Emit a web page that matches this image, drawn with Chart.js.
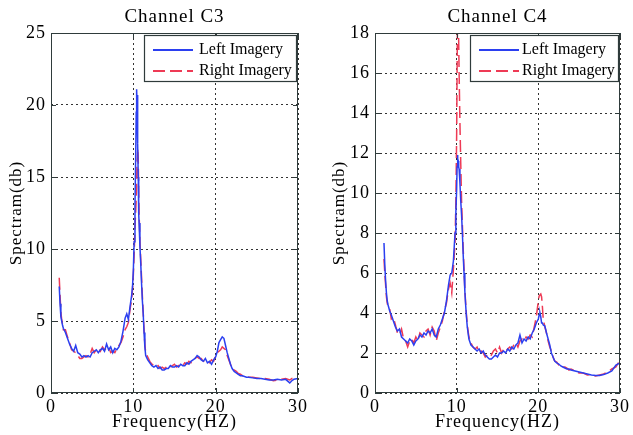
<!DOCTYPE html>
<html>
<head>
<meta charset="utf-8">
<script src="https://cdn.jsdelivr.net/npm/chart.js@4.4.1/dist/chart.umd.min.js"></script>
<style>
  html, body { margin: 0; padding: 0; background: #fff; }
  #wrap { position: relative; width: 633px; height: 435px; }
  canvas { position: absolute; top: 0; }
</style>
</head>
<body>
<div id="wrap">
  <canvas id="c3" width="316" height="435" style="left:0"></canvas>
  <canvas id="c4" width="317" height="435" style="left:316px"></canvas>
</div>
<script>
// Channel C3 (frequency in Hz, spectrum in db)
const freqC3 = [
  1.0, 1.1, 1.2, 1.3, 1.4, 1.5,
  1.75, 2.0, 2.25, 2.5, 2.75, 3.0, 3.25, 3.5, 3.75, 4.0, 4.25, 4.5, 4.75, 5.0, 5.25, 5.5, 5.75, 6.0, 6.25, 6.5, 6.75, 7.0, 7.25, 7.5, 7.75, 8.0, 8.25, 8.5, 8.75, 9.0,
  9.2, 9.4, 9.6, 9.8, 9.9, 10.0, 10.1, 10.2, 10.3, 10.35, 10.4, 10.45, 10.5, 10.55, 10.6, 10.65, 10.7, 10.8, 10.9, 11.0, 11.1, 11.2, 11.3, 11.4, 11.5,
  11.75, 12.0, 12.25, 12.5, 12.75, 13.0, 13.25, 13.5, 13.75, 14.0, 14.25, 14.5, 14.75, 15.0, 15.25, 15.5, 15.75, 16.0, 16.25, 16.5, 16.75, 17.0, 17.25, 17.5, 17.75, 18.0, 18.25, 18.5, 18.75, 19.0, 19.25, 19.5, 19.75, 20.0,
  20.2, 20.4, 20.6, 20.8, 21.0, 21.2, 21.4, 21.6, 21.8, 22.0,
  22.25, 22.5, 22.75, 23.0, 23.25, 23.5, 23.75, 24.0,
  24.5, 25.0, 25.5, 26.0, 26.5, 27.0, 27.5, 28.0, 28.5, 29.0, 29.25, 29.5, 30.0
];
const c3Left = [
  7.4, 6.2, 5.3, 5.0, 4.7, 4.5,
  4.2, 3.8, 3.4, 3.1, 2.9, 3.3, 2.8, 2.7, 2.5, 2.6, 2.5, 2.6, 2.5, 2.8, 2.9, 3.0, 2.8, 3.0, 3.1, 2.9, 3.4, 3.0, 3.2, 2.8, 3.1, 3.0, 3.2, 3.6, 4.3, 5.2,
  5.5, 5.1, 6.0, 6.8, 7.4, 8.5, 10.5, 13.0, 17.0, 19.5, 21.1, 20.0, 20.7, 17.3, 15.0, 12.5, 11.8, 10.2, 9.0, 7.6, 6.4, 5.5, 4.2, 3.2, 2.6,
  2.3, 2.1, 1.9, 1.8, 1.9, 1.7, 1.8, 1.6, 1.6, 1.7, 1.7, 1.9, 1.8, 1.8, 1.9, 1.8, 2.0, 1.9, 1.9, 2.1, 2.0, 2.2, 2.3, 2.4, 2.6, 2.5, 2.3, 2.2, 2.4, 2.1, 2.2, 2.0, 2.3, 2.5,
  2.9, 3.5, 3.7, 3.9, 3.8, 3.3, 2.8, 2.4, 2.0, 1.7,
  1.5, 1.4, 1.3, 1.2, 1.2, 1.15, 1.1, 1.1,
  1.05, 1.0, 1.0, 0.95, 0.9, 0.9, 0.95, 0.9, 0.95, 0.7, 0.85, 0.95, 1.0
];
const c3Right = [
  8.0, 6.8, 5.6, 5.1, 4.8, 4.4,
  4.4, 3.9, 3.5, 3.0, 2.9, 2.8, 2.6, 2.4, 2.4, 2.5, 2.6, 2.5, 2.7, 3.1, 2.8, 3.0, 3.1, 2.9, 3.2, 3.0, 3.1, 3.2, 2.8, 2.9, 2.8, 3.1, 3.3, 3.5, 3.9, 4.4,
  4.6, 4.9, 5.8, 6.5, 7.2, 8.2, 9.6, 11.5, 12.8, 13.5, 14.5, 16.0, 16.6, 17.0, 16.2, 14.0, 12.5, 10.5, 9.3, 8.0, 6.7, 5.6, 4.4, 3.4, 2.8,
  2.5, 2.2, 2.0, 1.9, 1.8, 1.9, 1.7, 1.8, 1.7, 1.8, 1.9, 1.8, 1.9, 2.0, 1.8, 1.9, 2.0, 1.9, 2.1, 2.0, 2.2, 2.1, 2.3, 2.4, 2.5, 2.4, 2.4, 2.2, 2.3, 2.2, 2.1, 2.3, 2.2, 2.6,
  2.8, 2.9, 3.0, 3.2, 3.1, 3.0, 2.6, 2.3, 2.0, 1.6,
  1.6, 1.5, 1.35, 1.3, 1.2, 1.2, 1.15, 1.1,
  1.1, 1.05, 1.0, 1.0, 0.95, 0.85, 0.9, 0.95, 1.0, 0.9, 1.0, 1.0, 1.0
];

// Channel C4
const freqC4 = [
  1.1, 1.2, 1.3, 1.4, 1.5, 1.6, 1.8,
  2.0, 2.25, 2.5, 2.75, 3.0, 3.25, 3.5, 3.75, 4.0, 4.25, 4.5, 4.75, 5.0, 5.25, 5.5, 5.75, 6.0, 6.25, 6.5, 6.75, 7.0, 7.25, 7.5, 7.75, 8.0, 8.25, 8.5, 8.75, 9.0,
  9.2, 9.4, 9.6, 9.8, 9.9, 10.0, 10.05, 10.1, 10.15, 10.2, 10.25, 10.3, 10.4, 10.5, 10.6, 10.7, 10.8, 10.9, 11.0, 11.1, 11.2, 11.3, 11.5,
  11.75, 12.0, 12.25, 12.5, 12.75, 13.0, 13.25, 13.5, 13.75, 14.0, 14.25, 14.5, 14.75, 15.0, 15.25, 15.5, 15.75, 16.0, 16.25, 16.5, 16.75, 17.0, 17.25, 17.5, 17.75, 18.0, 18.25, 18.5, 18.75, 19.0, 19.25, 19.5, 19.75,
  20.0, 20.1, 20.2, 20.3, 20.4, 20.5, 20.6, 20.8, 21.0, 21.2, 21.4, 21.6, 21.8, 22.0,
  22.25, 22.5, 22.75, 23.0, 23.25, 23.5, 23.75, 24.0,
  24.5, 25.0, 25.5, 26.0, 26.5, 27.0, 27.5, 28.0, 28.5, 29.0, 29.5, 30.0
];
const c4Left = [
  7.5, 6.4, 5.6, 5.0, 4.6, 4.4, 4.1,
  3.9, 3.6, 3.3, 3.1, 3.2, 2.8, 2.7, 2.6, 2.5, 2.7, 2.6, 2.4, 2.6, 2.7, 2.9, 2.8, 3.0, 2.9, 3.1, 3.0, 3.2, 2.9, 2.8, 3.2, 3.4, 3.7, 4.0, 4.6, 5.4,
  5.9, 6.0, 6.6, 8.0, 9.0, 10.2, 11.3, 11.9, 11.7, 11.6, 11.3, 11.2, 10.5, 9.6, 8.9, 8.0, 6.9, 6.0, 5.1, 4.4, 3.8, 3.3, 2.7,
  2.4, 2.3, 2.2, 2.1, 2.2, 2.0, 2.1, 1.9, 1.8, 1.7, 1.7, 1.8, 1.9, 1.8, 2.0, 2.0, 2.1, 2.0, 2.2, 2.1, 2.3, 2.2, 2.4, 2.5, 2.9, 2.5, 2.7, 2.6, 2.8, 2.7, 3.0, 3.2, 3.5,
  3.7, 3.9, 4.0, 3.8, 3.5, 3.5, 3.4, 3.35, 3.0, 2.7, 2.4, 2.0, 1.8, 1.6,
  1.5, 1.45, 1.35, 1.3, 1.25, 1.2, 1.2, 1.15,
  1.1, 1.05, 1.0, 0.95, 0.9, 0.87, 0.88, 0.92, 1.0, 1.1, 1.4, 1.5
];
const c4Right = [
  6.7, 6.0, 5.4, 4.8, 4.5, 4.3, 4.2,
  3.7, 3.8, 3.4, 3.0, 2.9, 3.2, 2.7, 2.6, 2.3, 2.6, 2.7, 2.5, 2.8, 2.6, 3.0, 2.9, 2.8, 3.1, 3.2, 2.9, 3.3, 3.1, 2.6, 3.0, 3.3, 3.6, 4.1, 4.5, 5.2,
  5.5, 5.0, 6.2, 7.5, 9.5, 13.0, 16.0, 18.5, 19.0, 18.8, 17.5, 16.0, 13.5, 11.5, 9.6, 8.4, 7.2, 6.2, 5.2, 4.5, 3.9, 3.4, 2.8,
  2.5, 2.3, 2.2, 2.3, 2.0, 2.1, 2.0, 1.8, 1.9, 1.8, 1.9, 2.1, 2.2, 2.0, 2.3, 2.0, 2.2, 2.1, 2.2, 2.3, 2.2, 2.4, 2.5, 2.3, 2.6, 2.7, 2.6, 2.8, 2.7, 2.9, 2.8, 3.3, 3.8,
  4.6, 4.85, 4.9, 4.95, 4.8, 4.3, 3.7, 3.3, 3.0, 2.6, 2.3, 2.1, 1.8, 1.6,
  1.55, 1.4, 1.4, 1.3, 1.3, 1.25, 1.15, 1.2,
  1.1, 1.0, 1.0, 0.9, 0.92, 0.85, 0.9, 0.95, 1.05, 1.2, 1.3, 1.65
];

const seriesNames = ['Left Imagery', 'Right Imagery'];
const blue = '#2b3ff0';
const red = '#ee3a55';
const frameColor = '#2f3b3b';
const serif = "'Liberation Serif', 'Times New Roman', serif";

// the source picture is a bit stretched sideways, a little letter spacing mimics it
const spacing = {
  id: 'spacing',
  beforeUpdate(chart) { chart.ctx.letterSpacing = '1px'; },
  beforeDraw(chart) { chart.ctx.letterSpacing = '1px'; }
};

// matlab style box with inward tick marks
const frame = {
  id: 'frame',
  afterDatasetsDraw(chart) {
    const { ctx, chartArea: a, scales } = chart;
    ctx.save();
    ctx.strokeStyle = frameColor;
    ctx.lineWidth = 1;
    ctx.setLineDash([]);
    ctx.strokeRect(a.left + 0.5, a.top + 0.5, a.right - a.left - 1, a.bottom - a.top - 1);
    ctx.beginPath();
    scales.x.ticks.forEach(t => {
      const px = Math.round(scales.x.getPixelForValue(t.value)) + 0.5;
      ctx.moveTo(px, a.bottom); ctx.lineTo(px, a.bottom - 5);
      ctx.moveTo(px, a.top); ctx.lineTo(px, a.top + 5);
    });
    scales.y.ticks.forEach(t => {
      const py = Math.round(scales.y.getPixelForValue(t.value)) + 0.5;
      ctx.moveTo(a.left, py); ctx.lineTo(a.left + 5, py);
      ctx.moveTo(a.right, py); ctx.lineTo(a.right - 5, py);
    });
    ctx.stroke();
    ctx.restore();
  }
};

// legend box inside the top right corner
const boxLegend = {
  id: 'boxLegend',
  afterDraw(chart, args, opts) {
    const { ctx, chartArea: a } = chart;
    const w = opts.width, h = 46;
    const x0 = a.right - w - 2, y0 = a.top + 2;
    ctx.save();
    ctx.fillStyle = '#fff';
    ctx.fillRect(x0, y0, w, h);
    ctx.strokeStyle = frameColor;
    ctx.lineWidth = 1.2;
    ctx.strokeRect(x0 + 0.5, y0 + 0.5, w, h);
    ctx.letterSpacing = '0px';
    ctx.font = '16px ' + serif;
    ctx.textBaseline = 'middle';
    chart.data.datasets.forEach((ds, i) => {
      const y = y0 + 15 + i * 21;
      ctx.strokeStyle = ds.borderColor;
      ctx.lineWidth = 2;
      ctx.setLineDash(ds.borderDash || []);
      ctx.beginPath();
      ctx.moveTo(x0 + 9, y); ctx.lineTo(x0 + 49, y);
      ctx.stroke();
      ctx.fillStyle = '#000';
      ctx.fillText(ds.label, x0 + opts.textX, y);
    });
    ctx.restore();
  }
};

function makeChart(id, title, freq, left, right, yMax, yStep, yWidth, padRight, yTitlePad, legendW, textX) {
  const tickFont = { family: serif, size: 18 };
  return new Chart(document.getElementById(id), {
    type: 'line',
    data: {
      datasets: [
        {
          label: seriesNames[0],
          data: freq.map((f, i) => ({ x: f, y: left[i] })),
          borderColor: blue,
          borderWidth: 1.5,
          pointRadius: 0,
          fill: false
        },
        {
          label: seriesNames[1],
          data: freq.map((f, i) => ({ x: f, y: right[i] })),
          borderColor: red,
          borderWidth: 1.5,
          borderDash: [12, 5],
          pointRadius: 0,
          fill: false
        }
      ]
    },
    options: {
      responsive: false,
      animation: false,
      layout: { padding: { left: 0, right: padRight, top: 0, bottom: 0 } },
      plugins: {
        legend: { display: false },
        tooltip: { enabled: false },
        title: {
          display: true,
          text: title,
          color: '#000',
          fullSize: false,
          font: { family: serif, size: 19, weight: 'normal', lineHeight: 1.2 },
          padding: { top: 5.5, bottom: 4.7 }
        },
        boxLegend: { width: legendW, textX: textX }
      },
      scales: {
        x: {
          type: 'linear',
          min: 0,
          max: 30,
          ticks: { stepSize: 10, padding: 3, color: '#000', font: tickFont, maxRotation: 0 },
          grid: { color: '#333', drawTicks: false, lineWidth: 1 },
          border: { display: false, dash: [2, 3] },
          title: { display: true, text: 'Frequency(HZ)', color: '#000', font: tickFont, padding: { top: 0, bottom: 2 } },
          afterFit(s) { s.height = 42; }
        },
        y: {
          min: 0,
          max: yMax,
          ticks: { stepSize: yStep, padding: 5, color: '#000', font: tickFont },
          grid: { color: '#333', drawTicks: false, lineWidth: 1 },
          border: { display: false, dash: [2, 3] },
          title: { display: true, text: 'Spectram(db)', color: '#000', font: { family: serif, size: 17 }, padding: { top: yTitlePad, bottom: 0 } },
          afterFit(s) { s.width = yWidth; }
        }
      }
    },
    plugins: [spacing, frame, boxLegend]
  });
}

makeChart('c3', 'Channel C3', freqC3, c3Left, c3Right, 25, 5, 51, 18, 6, 152, 55);
makeChart('c4', 'Channel C4', freqC4, c4Left, c4Right, 18, 2, 59, 10, 13, 148, 52);
</script>
</body>
</html>
